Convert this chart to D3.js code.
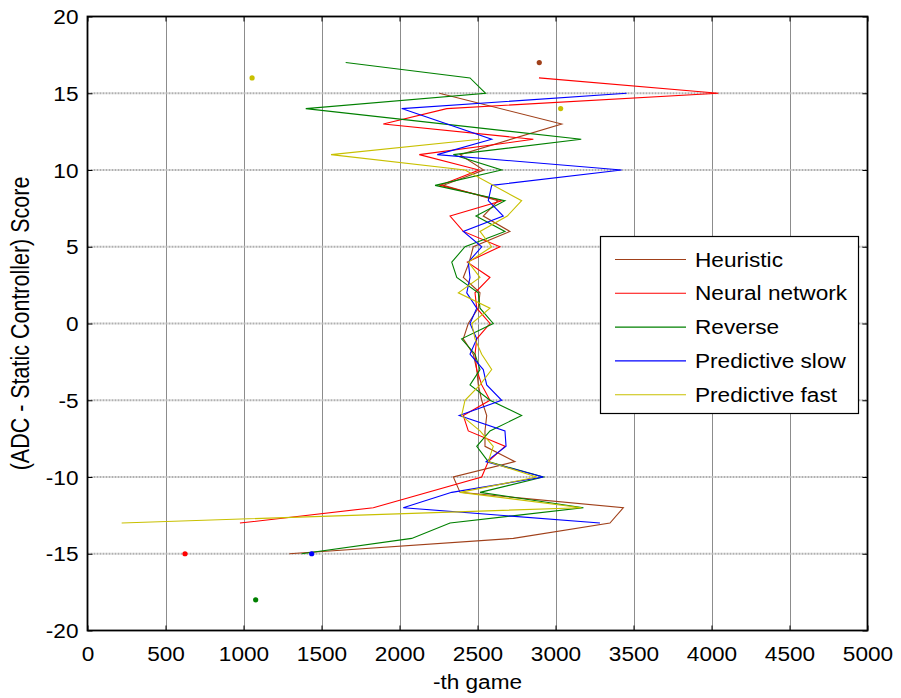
<!DOCTYPE html>
<html>
<head>
<meta charset="utf-8">
<script src="https://cdn.jsdelivr.net/npm/d3@7/dist/d3.min.js"></script>
<style>
  html, body { margin: 0; padding: 0; background: #fff; }
  svg { display: block; }
  text { font-family: "Liberation Sans", Arial, Helvetica, sans-serif; fill: #000; }
</style>
</head>
<body>
<svg id="chart" width="901" height="698"></svg>
<script>
// ---- data: game index at which each score difference was reached ----
const seriesNames = ["Heuristic", "Neural network", "Reverse", "Predictive slow", "Predictive fast"];
const seriesColors = ["#a0401a", "#ff0000", "#008000", "#0000ff", "#c8c000"];

const heuristicScore = [15, 13, 11, 10, 9, 8, 7, 6, 5, 4, 3, 2, 1, 0, -1, -2, -3, -4, -5, -6, -7, -8, -9, -10, -11, -12, -13, -14, -15];
const heuristicGame  = [2255, 3040, 2388, 2540, 2281, 2631, 2537, 2708, 2473, 2447, 2409, 2516, 2505, 2441, 2409, 2473, 2495, 2505, 2527, 2559, 2548, 2548, 2740, 2345, 2388, 3435, 3349, 2730, 1294];

const neuralScore = [16, 15, 14, 13, 12, 11, 10, 9, 8, 7, 6, 5, 4, 3, 2, 1, 0, -1, -2, -3, -4, -5, -6, -7, -8, -9, -10, -12, -13];
const neuralGame  = [2894, 4043, 2303, 1896, 2858, 2127, 2510, 2260, 2655, 2324, 2409, 2644, 2435, 2580, 2484, 2495, 2580, 2495, 2484, 2495, 2527, 2580, 2409, 2441, 2676, 2569, 2527, 1832, 977];

const reverseScore = [17, 16, 15, 14, 12, 11, 10, 9, 8, 7, 6, 5, 4, 3, 2, 1, 0, -1, -2, -3, -4, -5, -6, -7, -8, -9, -10, -11, -12, -13, -14, -15];
const reverseGame  = [1655, 2452, 2552, 1399, 3165, 2345, 2655, 2228, 2676, 2490, 2676, 2420, 2335, 2367, 2505, 2516, 2601, 2398, 2484, 2516, 2452, 2580, 2783, 2580, 2495, 2569, 2922, 2516, 3179, 2324, 2078, 1373];

const slowScore = [15, 14, 12, 11, 10, 9, 8, 7, 6, 5, 4, 3, 2, 1, 0, -1, -2, -3, -4, -5, -6, -7, -8, -9, -10, -11, -12, -13];
const slowGame  = [3456, 2014, 2591, 2242, 3424, 2591, 2569, 2665, 2409, 2527, 2441, 2452, 2431, 2495, 2452, 2495, 2452, 2537, 2559, 2655, 2383, 2676, 2683, 2555, 2922, 2335, 2024, 3285];

const fastScore = [12, 11, 10, 8, 7, 6, 5, 4, 3, 2, 1, 0, -1, -2, -3, -4, -5, -6, -7, -8, -9, -10, -11, -12, -13];
const fastGame  = [2516, 1561, 2420, 2783, 2691, 2516, 2591, 2441, 2516, 2377, 2580, 2463, 2484, 2527, 2591, 2516, 2420, 2398, 2516, 2601, 2569, 2879, 2388, 3167, 219];

// single, unconnected observations: [series index, game, score]
const isolatedSeries = [0, 1, 2, 3, 4, 4];
const isolatedGame   = [2896, 625, 1078, 1437, 1055, 3033];
const isolatedScore  = [17, -15, -18, -15, 16, 14];

const xTicks = [0, 500, 1000, 1500, 2000, 2500, 3000, 3500, 4000, 4500, 5000];
const yTicks = [-20, -15, -10, -5, 0, 5, 10, 15, 20];
const xLabel = "-th game";
const yLabel = "(ADC - Static Controller) Score";

// ---- layout ----
const svg = d3.select("#chart");
const plot = { left: 87.5, right: 867.5, top: 16.5, bottom: 630.5 };
const FS = 19.5;      // label font size
const SX = 1.16;      // horizontal glyph stretch
const plainNumber = d => String(d);   // ASCII hyphen for negatives

const x = d3.scaleLinear().domain([0, 5000]).range([plot.left, plot.right]);
const y = d3.scaleLinear().domain([-20, 20]).range([plot.bottom, plot.top]);

// ---- grid ----
const grid = svg.append("g");
grid.selectAll("line.vx").data(xTicks.slice(1, -1)).enter().append("line")
  .attr("x1", d => Math.round(x(d)) + 0.5).attr("x2", d => Math.round(x(d)) + 0.5)
  .attr("y1", plot.top).attr("y2", plot.bottom)
  .attr("stroke", "#8c8c8c").attr("stroke-width", 1);
grid.selectAll("line.hy").data(yTicks.slice(1, -1)).enter().append("line")
  .attr("x1", plot.left).attr("x2", plot.right)
  .attr("y1", d => y(d)).attr("y2", d => y(d))
  .attr("stroke", "#b0b0b0").attr("stroke-width", 2)
  .attr("stroke-dasharray", "2,1");

// ---- series ----
const seriesData = [
  d3.zip(heuristicGame, heuristicScore),
  d3.zip(neuralGame, neuralScore),
  d3.zip(reverseGame, reverseScore),
  d3.zip(slowGame, slowScore),
  d3.zip(fastGame, fastScore)
];
const line = d3.line().x(d => x(d[0])).y(d => y(d[1]));
const lines = svg.append("g");
seriesData.forEach((pts, i) => {
  lines.append("path").attr("d", line(pts))
    .attr("fill", "none").attr("stroke", seriesColors[i])
    .attr("stroke-width", 1.1).attr("stroke-linejoin", "miter");
});
svg.append("g").selectAll("circle").data(d3.range(isolatedGame.length)).enter().append("circle")
  .attr("cx", i => x(isolatedGame[i])).attr("cy", i => y(isolatedScore[i]))
  .attr("r", 2.6).attr("fill", i => seriesColors[isolatedSeries[i]]);

// ---- axes (ticks point inward, box on all four sides) ----
function styleAxis(g) {
  g.select(".domain").remove();
  g.selectAll(".tick line").attr("stroke", "#000").attr("stroke-width", 1);
}
const tickLen = 5;
const gx = svg.append("g").attr("transform", `translate(0,${plot.bottom})`)
  .call(d3.axisBottom(x).tickValues(xTicks).tickSizeInner(-tickLen).tickSizeOuter(0).tickPadding(0).tickFormat(plainNumber));
styleAxis(gx);
gx.selectAll(".tick text")
  .attr("y", 0).attr("dy", 0)
  .attr("transform", `translate(0,30) scale(${SX},1)`)
  .attr("font-size", FS);

const gy = svg.append("g").attr("transform", `translate(${plot.left},0)`)
  .call(d3.axisLeft(y).tickValues(yTicks).tickSizeInner(-tickLen).tickSizeOuter(0).tickPadding(0).tickFormat(plainNumber));
styleAxis(gy);
gy.selectAll(".tick text")
  .attr("x", 0).attr("dy", 0)
  .attr("transform", `translate(-9,7) scale(${SX},1)`)
  .attr("font-size", FS);

const gt = svg.append("g").attr("transform", `translate(0,${plot.top})`)
  .call(d3.axisTop(x).tickValues(xTicks).tickSizeInner(-tickLen).tickSizeOuter(0).tickFormat(""));
styleAxis(gt);
const gr = svg.append("g").attr("transform", `translate(${plot.right},0)`)
  .call(d3.axisRight(y).tickValues(yTicks).tickSizeInner(-tickLen).tickSizeOuter(0).tickFormat(""));
styleAxis(gr);

svg.append("rect")
  .attr("x", plot.left).attr("y", plot.top)
  .attr("width", plot.right - plot.left).attr("height", plot.bottom - plot.top)
  .attr("fill", "none").attr("stroke", "#000").attr("stroke-width", 1.8);

// ---- axis titles ----
svg.append("text")
  .attr("transform", `translate(${(plot.left + plot.right) / 2},689) scale(${SX},1)`)
  .attr("text-anchor", "middle").attr("font-size", FS).text(xLabel);
svg.append("text")
  .attr("transform", `translate(29,${(plot.top + plot.bottom) / 2}) scale(${SX},1) rotate(-90)`)
  .attr("text-anchor", "middle").attr("font-size", 21.5).text(yLabel);

// ---- legend ----
const legend = svg.append("g").attr("transform", "translate(600,236)");
legend.append("rect").attr("x", 0.5).attr("y", 0.5).attr("width", 258).attr("height", 177)
  .attr("fill", "#fff").attr("stroke", "#000").attr("stroke-width", 1.2);
seriesNames.forEach((name, i) => {
  const cy = 23.5 + i * 33.8;
  legend.append("line").attr("x1", 15).attr("x2", 86).attr("y1", cy).attr("y2", cy)
    .attr("stroke", seriesColors[i]).attr("stroke-width", 1.1);
  legend.append("text")
    .attr("transform", `translate(95,${cy + 7}) scale(${SX},1)`)
    .attr("font-size", FS).text(name);
});
</script>
</body>
</html>
